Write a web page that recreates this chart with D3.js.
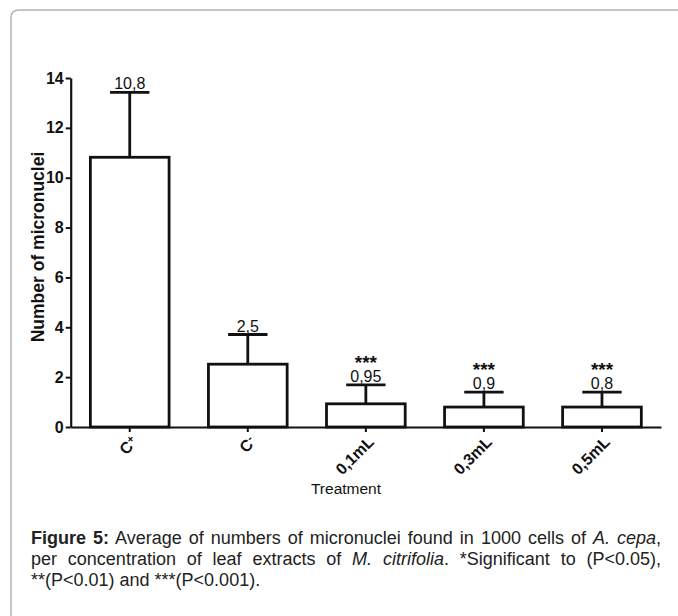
<!DOCTYPE html>
<html>
<head>
<meta charset="utf-8">
<script src="https://cdn.jsdelivr.net/npm/d3@7"></script>
<style>
  body { margin: 0; background: #fff; }
  #wrap { position: relative; width: 678px; height: 616px; overflow: hidden; }
  svg { position: absolute; left: 0; top: 0; }
  .caption { position: absolute; left: 31px; top: 528px; width: 630px;
    font-family: "Liberation Sans", Arial, sans-serif; font-size: 18px; line-height: 21px; color: #222; }
  .caption .j { text-align: justify; text-align-last: justify; }
</style>
</head>
<body>
<div id="wrap">
  <div id="chart"></div>
  <div class="caption">
    <div class="j"><b>Figure 5:</b> Average of numbers of micronuclei found in 1000 cells of <i>A. cepa</i>,</div>
    <div class="j">per concentration of leaf extracts of <i>M. citrifolia</i>. *Significant to (P&lt;0.05),</div>
    <div>**(P&lt;0.01) and ***(P&lt;0.001).</div>
  </div>
</div>
<script>
// data
var groups = ["C+", "C-", "0,1mL", "0,3mL", "0,5mL"];
var means = [10.82, 2.52, 0.93, 0.8, 0.8];
var errs = [2.6, 1.19, 0.76, 0.6, 0.6];
var valueLabels = ["10,8", "2,5", "0,95", "0,9", "0,8"];
var signif = ["", "", "***", "***", "***"];
var yTicks = [0, 2, 4, 6, 8, 10, 12, 14];

var svgWidth = 678, svgHeight = 616;
var font = "'Liberation Sans', Arial, sans-serif";

var svg = d3.select("#chart").append("svg")
  .attr("width", svgWidth)
  .attr("height", svgHeight);

// figure frame (rounded top-left corner)
svg.append("path")
  .attr("d", "M11,616 V18 Q11,10 19,10 H678")
  .attr("fill", "none")
  .attr("stroke", "#b3b3b3")
  .attr("stroke-width", 1.5);

var x = d3.scaleBand().domain(groups).range([70.7, 661]).paddingInner(1/3).paddingOuter(1/6);
var y = d3.scaleLinear().domain([0, 14]).range([427, 78]);

var rows = groups.map(function(g, i) {
  return {g: g, mean: means[i], err: errs[i], label: valueLabels[i], sig: signif[i]};
});

// bars
svg.selectAll("rect.bar").data(rows).enter().append("rect")
  .attr("class", "bar")
  .attr("x", function(d) { return x(d.g); })
  .attr("y", function(d) { return y(d.mean); })
  .attr("width", x.bandwidth())
  .attr("height", function(d) { return y(0) - y(d.mean); })
  .attr("fill", "#fff")
  .attr("stroke", "#111")
  .attr("stroke-width", 2.8);

// error bars (upper only)
var eb = svg.selectAll("g.err").data(rows).enter().append("g").attr("class", "err");
eb.append("line")
  .attr("x1", function(d) { return x(d.g) + x.bandwidth() / 2; })
  .attr("x2", function(d) { return x(d.g) + x.bandwidth() / 2; })
  .attr("y1", function(d) { return y(d.mean); })
  .attr("y2", function(d) { return y(d.mean + d.err); })
  .attr("stroke", "#111").attr("stroke-width", 2.8);
eb.append("line")
  .attr("x1", function(d) { return x(d.g) + x.bandwidth() / 4; })
  .attr("x2", function(d) { return x(d.g) + x.bandwidth() * 3 / 4; })
  .attr("y1", function(d) { return y(d.mean + d.err); })
  .attr("y2", function(d) { return y(d.mean + d.err); })
  .attr("stroke", "#111").attr("stroke-width", 2.8);

eb.append("text")
  .attr("x", function(d) { return x(d.g) + x.bandwidth() / 2; })
  .attr("y", function(d) { return y(d.mean + d.err) - 3; })
  .attr("text-anchor", "middle")
  .style("font-family", font).style("font-size", "16px").attr("fill", "#111")
  .text(function(d) { return d.label; });
eb.append("text")
  .attr("x", function(d) { return x(d.g) + x.bandwidth() / 2; })
  .attr("y", function(d) { return y(d.mean + d.err) - 16; })
  .attr("text-anchor", "middle")
  .style("font-family", font).style("font-size", "19px").style("font-weight", "bold").attr("fill", "#111")
  .text(function(d) { return d.sig; });

// y axis
var yAxis = svg.append("g")
  .attr("transform", "translate(70.7,0)")
  .call(d3.axisLeft(y).tickValues(yTicks).tickSize(5).tickSizeOuter(0).tickPadding(2));
yAxis.select(".domain").attr("stroke", "#111").attr("stroke-width", 2.2);
yAxis.selectAll(".tick line").attr("stroke", "#111").attr("stroke-width", 2);
yAxis.selectAll(".tick text")
  .style("font-family", font).style("font-size", "16px").style("font-weight", "bold").attr("fill", "#111");

// x axis
var xAxis = svg.append("g")
  .attr("transform", "translate(0,427)")
  .call(d3.axisBottom(x).tickSize(5).tickSizeOuter(0));
xAxis.select(".domain").attr("stroke", "#111").attr("stroke-width", 2.2);
xAxis.selectAll(".tick line").attr("stroke", "#111").attr("stroke-width", 2);
xAxis.selectAll(".tick text").each(function(d) {
  var t = d3.select(this);
  t.text(null)
    .attr("y", 0).attr("dy", null)
    .attr("text-anchor", "end")
    .attr("transform", "translate(9,16) rotate(-45)")
    .style("font-family", font).style("font-size", "16px").style("font-weight", "bold").attr("fill", "#111");
  if (d === "C+" || d === "C-") {
    t.append("tspan").text("C");
    t.append("tspan").attr("dy", "-0.45em").style("font-size", "11px").text(d === "C+" ? "+" : "-");
  } else {
    t.text(d);
  }
});

// axis titles
svg.append("text")
  .attr("x", 346).attr("y", 494)
  .attr("text-anchor", "middle")
  .style("font-family", font).style("font-size", "15.5px").attr("fill", "#111")
  .text("Treatment");

svg.append("text")
  .attr("transform", "translate(44,247) rotate(-90)")
  .attr("text-anchor", "middle")
  .style("font-family", font).style("font-size", "17.5px").style("font-weight", "bold").attr("fill", "#111")
  .text("Number of micronuclei");
</script>
</body>
</html>
